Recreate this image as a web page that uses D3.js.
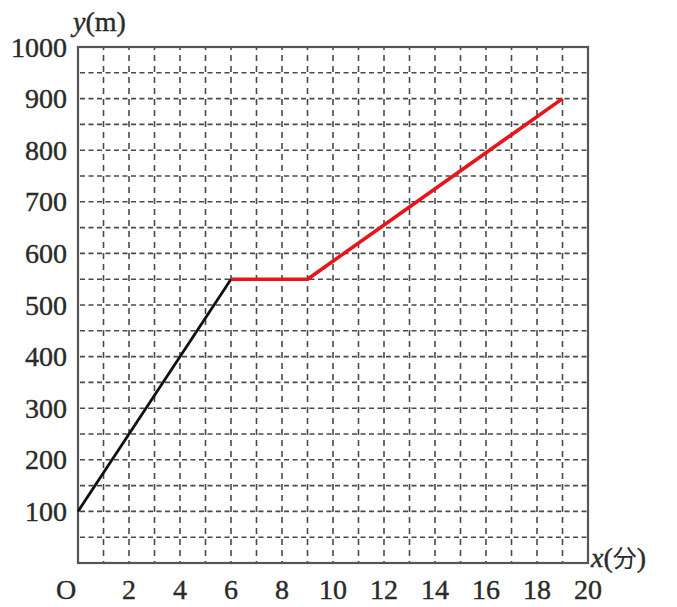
<!DOCTYPE html>
<html><head><meta charset="utf-8">
<script src="https://cdn.jsdelivr.net/npm/d3@7"></script>
<style>body{margin:0;background:#fff}</style>
</head><body>
<svg id="c" width="677" height="607"></svg>
<script>
const xTicks = [2,4,6,8,10,12,14,16,18,20];
const yTicks = [100,200,300,400,500,600,700,800,900,1000];
const blackX = [0, 6];
const blackY = [100, 550];
const redX = [6, 9, 19];
const redY = [550, 550, 900];

const svg = d3.select("#c");
const x = d3.scaleLinear().domain([0,20]).range([78,588]);
const y = d3.scaleLinear().domain([0,1000]).range([563,47]);
const font = "'Liberation Serif', serif";
const tc = "#2a2a2a";

const grid = svg.append("g").attr("stroke","#4a4a4a").attr("stroke-width",1.6).attr("fill","none");
d3.range(1,20).forEach(v=>{
  grid.append("line").attr("x1",x(v)).attr("x2",x(v)).attr("y1",y(1000)).attr("y2",y(0))
    .attr("stroke-dasharray","6,5").attr("stroke-dashoffset",-8);
});
d3.range(50,1000,50).forEach(v=>{
  grid.append("line").attr("x1",x(0)).attr("x2",x(20)).attr("y1",y(v)).attr("y2",y(v))
    .attr("stroke-dasharray","5,3.5").attr("stroke-dashoffset",-2);
});
svg.append("rect").attr("x",x(0)).attr("y",y(1000)).attr("width",x(20)-x(0)).attr("height",y(0)-y(1000))
  .attr("fill","none").attr("stroke","#555").attr("stroke-width",2.2);

const line = d3.line().x(d=>x(d[0])).y(d=>y(d[1]));
svg.append("path").datum(blackX.map((v,i)=>[v,blackY[i]])).attr("d",line)
  .attr("fill","none").attr("stroke","#111").attr("stroke-width",2.8);
svg.append("path").datum(redX.map((v,i)=>[v,redY[i]])).attr("d",line)
  .attr("fill","none").attr("stroke","#e8141c").attr("stroke-width",3.6).attr("stroke-linejoin","round");

function txt(g){ return g.attr("font-family",font).attr("font-size",28).attr("fill",tc).attr("stroke",tc).attr("stroke-width",0.4); }
txt(svg.append("g")).selectAll("text").data(yTicks).join("text")
  .attr("x",67).attr("y",d=>y(d)).attr("dy","0.34em").attr("text-anchor","end").text(d=>d);
txt(svg.append("g")).selectAll("text").data(xTicks).join("text")
  .attr("x",d=>x(d)).attr("y",599).attr("text-anchor","middle").text(d=>d);
txt(svg.append("text")).attr("x",x(0)-12).attr("y",599).attr("text-anchor","middle").text("O");

const yl = txt(svg.append("text")).attr("x",73).attr("y",31);
yl.append("tspan").attr("font-style","italic").text("y");
yl.append("tspan").text("(m)");
const xl = txt(svg.append("text")).attr("x",591).attr("y",567);
xl.append("tspan").attr("font-style","italic").text("x");
xl.append("tspan").text("(");
xl.append("tspan").attr("font-family","'Noto Sans CJK JP', sans-serif").attr("font-size",24).attr("stroke-width",0).text("分");
xl.append("tspan").text(")");
</script>
</body></html>
